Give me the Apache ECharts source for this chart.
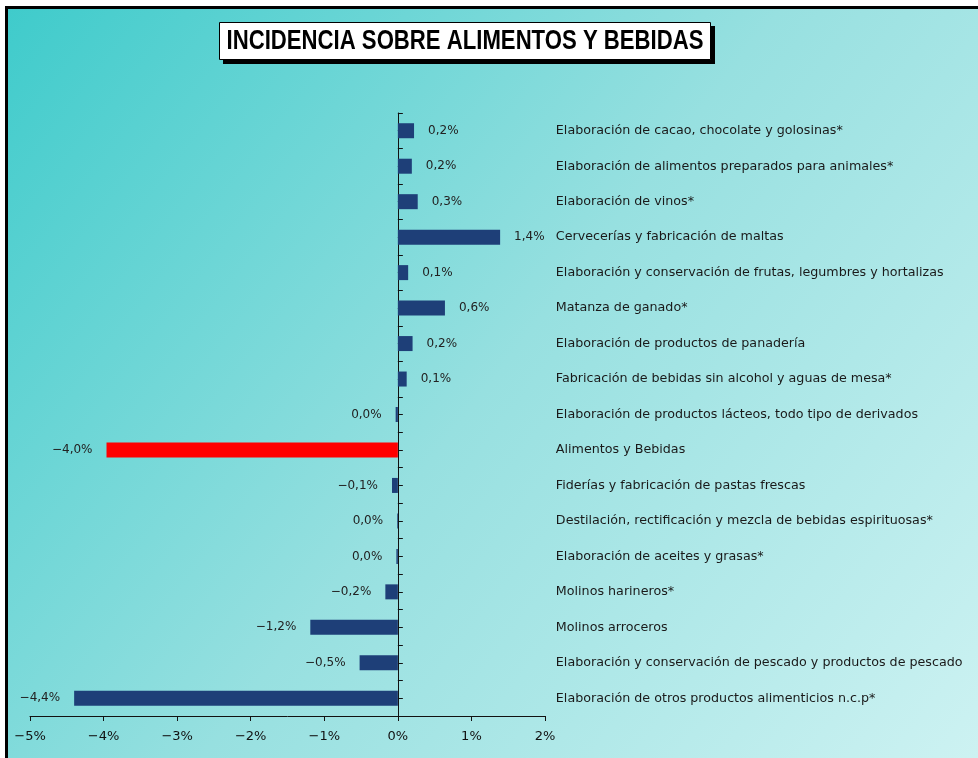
<!DOCTYPE html>
<html><head><meta charset="utf-8">
<script src="https://cdn.jsdelivr.net/npm/echarts@6/dist/echarts.min.js"></script>
<style>html,body{margin:0;padding:0;background:#fff}#c{width:978px;height:758px}</style>
</head><body><div id="c"></div>
<script>
const titleText = 'INCIDENCIA SOBRE ALIMENTOS Y BEBIDAS';
const categories = [
  'Elaboración de cacao, chocolate y golosinas*',
  'Elaboración de alimentos preparados para animales*',
  'Elaboración de vinos*',
  'Cervecerías y fabricación de maltas',
  'Elaboración y conservación de frutas, legumbres y hortalizas',
  'Matanza de ganado*',
  'Elaboración de productos de panadería',
  'Fabricación de bebidas sin alcohol y aguas de mesa*',
  'Elaboración de productos lácteos, todo tipo de derivados',
  'Alimentos y Bebidas',
  'Fiderías y fabricación de pastas frescas',
  'Destilación, rectificación y mezcla de bebidas espirituosas*',
  'Elaboración de aceites y grasas*',
  'Molinos harineros*',
  'Molinos arroceros',
  'Elaboración y conservación de pescado y productos de pescado',
  'Elaboración de otros productos alimenticios n.c.p*'
];
const values = [0.22, 0.19, 0.27, 1.39, 0.14, 0.64, 0.20, 0.12, -0.03, -3.96, -0.08, -0.01, -0.02, -0.17, -1.19, -0.52, -4.40];
const highlight = 'Alimentos y Bebidas';
const xMin = -5, xMax = 2;

const fmtPct = v => {
  let r = Math.abs(v) < 0.05 ? 0 : v;
  return r.toFixed(1).replace('.', ',').replace('-', '\u2212') + '%';
};

const chart = echarts.init(document.getElementById('c'));
const W = 978, H = 758;
const gridLeft = 30, gridWidth = 515;
const zeroOffset = -gridWidth * (0 - xMin) / (xMax - xMin);
const option = {
  animation: false,
  graphic: [
    { type: 'rect', z: -100, silent: true, shape: { x: 6, y: 7, width: W - 6, height: H - 7 },
      style: { fill: new echarts.graphic.LinearGradient(0, 0, 1, 1, [
        { offset: 0, color: '#3fcbcb' },
        { offset: 0.5, color: '#97e0e0' },
        { offset: 1, color: '#cdf2f2' }
      ]) } },
    { type: 'line', z: -90, silent: true, shape: { x1: 6.5, y1: 7, x2: 6.5, y2: H }, style: { stroke: '#000', lineWidth: 3 } },
    { type: 'line', z: -90, silent: true, shape: { x1: 5, y1: 7.5, x2: W, y2: 7.5 }, style: { stroke: '#000', lineWidth: 3 } },
    { type: 'rect', z: 10, silent: true, shape: { x: 223, y: 26, width: 492, height: 38 }, style: { fill: '#000' } },
    { type: 'rect', z: 11, silent: true, shape: { x: 219.5, y: 22.5, width: 491, height: 37 }, style: { fill: '#fff', stroke: '#000', lineWidth: 1 } },
    { type: 'text', z: 12, silent: true, x: 465, y: 42, scaleX: 0.82,
      style: { text: titleText, fill: '#000', font: 'bold 27px "Liberation Sans", Arial, sans-serif', align: 'center', verticalAlign: 'middle' } }
  ],
  grid: { left: gridLeft, top: 113, width: gridWidth, height: 603, containLabel: false },
  xAxis: {
    type: 'value', min: xMin, max: xMax, interval: 1,
    axisLine: { show: true, lineStyle: { color: '#111', width: 1 } },
    axisTick: { show: true, length: 5, lineStyle: { color: '#111' } },
    splitLine: { show: false },
    axisLabel: { formatter: v => String(v).replace('-', '\u2212') + '%', color: '#111', fontSize: 13, fontFamily: 'DejaVu Sans', margin: 14 }
  },
  yAxis: [
    {
      type: 'category', data: categories, inverse: true, position: 'left', offset: zeroOffset,
      axisLine: { show: true, onZero: false, lineStyle: { color: '#111', width: 1 } },
      axisTick: { show: true, inside: true, length: 5, lineStyle: { color: '#111' } },
      axisLabel: { inside: true, margin: 158, align: 'left', color: '#1a1a1a', fontSize: 12.7, fontFamily: 'DejaVu Sans' }
    },
    {
      type: 'category', data: categories, inverse: true, position: 'left', offset: zeroOffset,
      axisLine: { show: false, onZero: false },
      axisTick: { show: true, inside: true, alignWithLabel: true, length: 5, lineStyle: { color: '#111' } },
      axisLabel: { show: false }
    }
  ],
  series: [{
    type: 'bar', yAxisIndex: 0, barWidth: 15,
    data: values.map((v, i) => ({
      value: v,
      itemStyle: { color: categories[i] === highlight ? '#ff0000' : '#1e3f78' },
      label: { position: v >= 0 ? 'right' : 'left' }
    })),
    label: { show: true, distance: 14, formatter: p => fmtPct(p.value), color: '#222', fontSize: 12, fontFamily: 'DejaVu Sans' }
  }]
};
chart.setOption(option);
</script></body></html>
